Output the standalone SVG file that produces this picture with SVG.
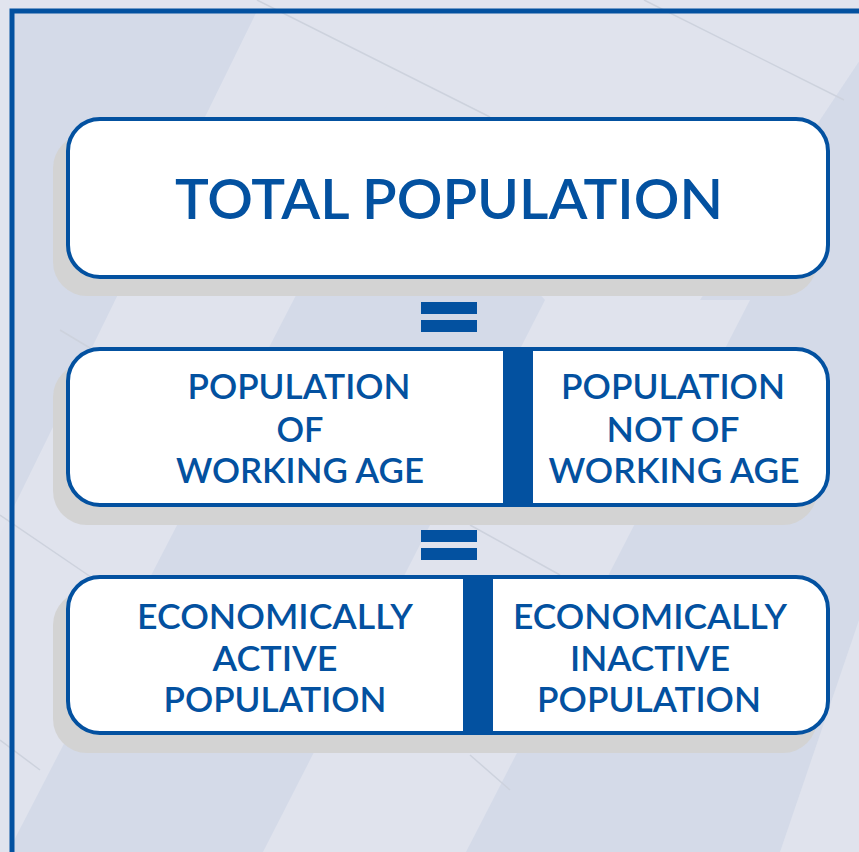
<svg xmlns="http://www.w3.org/2000/svg" width="859" height="852" viewBox="0 0 859 852">
  <defs>
    <style>
      .box { fill: #ffffff; stroke: #0351a0; stroke-width: 4; }
      .shadow { fill: #d3d3d3; }
      .bar { fill: #0351a0; }
      .t { font-family: "Lato", "Open Sans", "Liberation Sans", sans-serif; font-weight: 600; fill: #0351a0; text-anchor: middle; }
      .big { font-size: 56px; }
      .mid { font-size: 35px; }
      .light { fill: #e0e3ed; }
      .thin { stroke: #cdd2dd; stroke-width: 1.5; fill: none; }
    </style>
  </defs>

  <!-- background -->
  <rect x="0" y="0" width="859" height="852" fill="#e1e4ee"/>
  <rect x="12" y="11" width="860" height="860" fill="#d4dae8"/>
  <g id="bg-bands">
    <polygon class="light" points="257,11 443,11 8,852 0,852 0,535"/>
    <polygon class="light" points="443,11 860,11 860,60 700,300 545,300 380,117"/>
    <polygon class="light" points="700,300 750,300 466,852 263,852 545,300"/>
    <polygon class="light" points="859,620 859,852 780,852"/>
    <line class="thin" x1="257" y1="0" x2="490" y2="117"/>
    <line class="thin" x1="644" y1="0" x2="844" y2="100"/>
    <line class="thin" x1="0" y1="515" x2="110" y2="590"/>
    <line class="thin" x1="60" y1="330" x2="110" y2="360"/>
    <line class="thin" x1="470" y1="525" x2="560" y2="575"/>
    <line class="thin" x1="0" y1="740" x2="40" y2="770"/>
    <line class="thin" x1="470" y1="755" x2="510" y2="790"/>
  </g>
  <rect x="12" y="11" width="870" height="870" fill="none" stroke="#0351a0" stroke-width="5"/>

  <!-- shadows -->
  <g id="shadows">
    <rect class="shadow" x="53" y="134" width="764" height="162" rx="34"/>
    <rect class="shadow" x="53" y="363" width="764" height="162" rx="34"/>
    <rect class="shadow" x="53" y="591" width="764" height="162" rx="34"/>
  </g>

  <!-- connectors (equals signs) -->
  <g id="connectors">
    <rect class="bar" x="421" y="302" width="56" height="12"/>
    <rect class="bar" x="421" y="320" width="56" height="12"/>
    <rect class="bar" x="421" y="530" width="56" height="12"/>
    <rect class="bar" x="421" y="548" width="56" height="12"/>
  </g>

  <g id="total-population">
    <rect class="box" x="68" y="119" width="760" height="158" rx="32"/>
    <text class="t big" x="449" y="219" textLength="548" lengthAdjust="spacingAndGlyphs">TOTAL POPULATION</text>
  </g>

  <g id="working-age-row">
    <rect class="box" x="68" y="349" width="760" height="156" rx="32"/>
    <rect class="bar" x="503" y="347" width="30" height="160"/>
    <g id="working-age">
      <text class="t mid" x="299" y="399" textLength="223" lengthAdjust="spacingAndGlyphs">POPULATION</text>
      <text class="t mid" x="300" y="442" textLength="47" lengthAdjust="spacingAndGlyphs">OF</text>
      <text class="t mid" x="300" y="483" textLength="248" lengthAdjust="spacingAndGlyphs">WORKING AGE</text>
    </g>
    <g id="not-working-age">
      <text class="t mid" x="673" y="399" textLength="224" lengthAdjust="spacingAndGlyphs">POPULATION</text>
      <text class="t mid" x="673" y="442" textLength="133" lengthAdjust="spacingAndGlyphs">NOT OF</text>
      <text class="t mid" x="674" y="483" textLength="251" lengthAdjust="spacingAndGlyphs">WORKING AGE</text>
    </g>
  </g>

  <g id="activity-row">
    <rect class="box" x="68" y="577" width="760" height="156" rx="32"/>
    <rect class="bar" x="463" y="575" width="30" height="160"/>
    <g id="active">
      <text class="t mid" x="275" y="629" textLength="276" lengthAdjust="spacingAndGlyphs">ECONOMICALLY</text>
      <text class="t mid" x="275" y="671" textLength="125" lengthAdjust="spacingAndGlyphs">ACTIVE</text>
      <text class="t mid" x="275" y="712" textLength="223" lengthAdjust="spacingAndGlyphs">POPULATION</text>
    </g>
    <g id="inactive">
      <text class="t mid" x="650" y="629" textLength="274" lengthAdjust="spacingAndGlyphs">ECONOMICALLY</text>
      <text class="t mid" x="650" y="671" textLength="160" lengthAdjust="spacingAndGlyphs">INACTIVE</text>
      <text class="t mid" x="649" y="712" textLength="224" lengthAdjust="spacingAndGlyphs">POPULATION</text>
    </g>
  </g>
</svg>
